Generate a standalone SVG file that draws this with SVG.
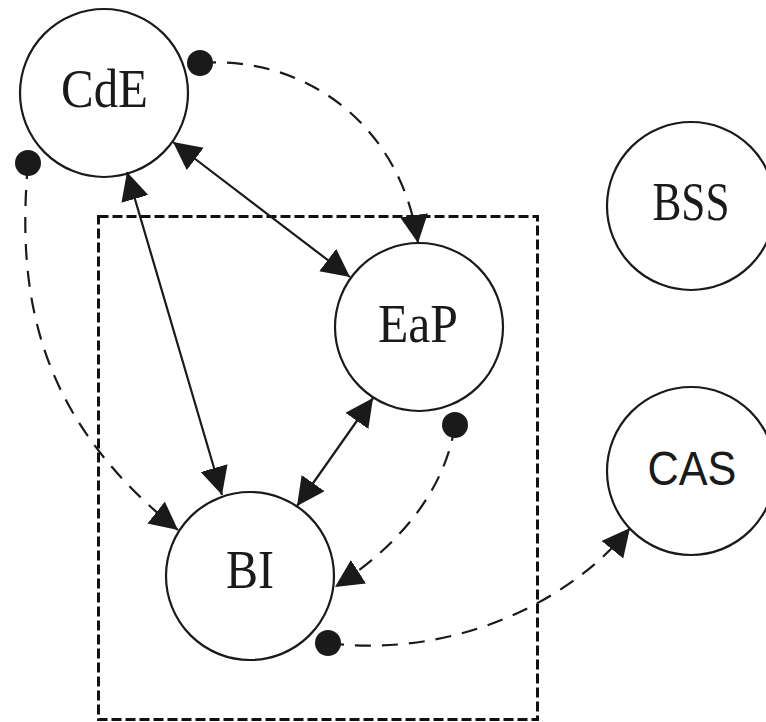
<svg xmlns="http://www.w3.org/2000/svg" width="766" height="722" viewBox="0 0 766 722">
<defs>
<style>
.node{fill:#fff;stroke:#1a1a1a;stroke-width:2.2}
.lbl{font-family:"Liberation Serif","Times New Roman",serif;font-size:55px;fill:#1a1a1a;text-anchor:middle}
.sans{font-family:"Liberation Sans",Arial,sans-serif;font-size:49px}
.solid{fill:none;stroke:#1a1a1a;stroke-width:2.2}
.dash{fill:none;stroke:#1a1a1a;stroke-width:2.2;stroke-dasharray:16 11}
.frame{fill:none;stroke:#111;stroke-width:3;stroke-dasharray:10 4}
</style>
<marker id="arr" markerUnits="userSpaceOnUse" markerWidth="30" markerHeight="30" refX="28" refY="14" orient="auto-start-reverse">
<path d="M0,0 L28,14 L0,28 z" fill="#1a1a1a"/>
</marker>
</defs>
<rect width="766" height="722" fill="#fff"/>
<rect class="frame" x="98.5" y="216.5" width="439" height="503"/>
<g id="CdE"><circle class="node" cx="104" cy="93" r="84"/><text class="lbl" x="104.5" y="107" textLength="87" lengthAdjust="spacingAndGlyphs">CdE</text></g>
<g id="EaP"><circle class="node" cx="419" cy="327" r="84"/><text class="lbl" x="418" y="342" textLength="80" lengthAdjust="spacingAndGlyphs">EaP</text></g>
<g id="BSS"><circle class="node" cx="691" cy="206" r="84"/><text class="lbl" x="691" y="220" textLength="77" lengthAdjust="spacingAndGlyphs">BSS</text></g>
<g id="CAS"><circle class="node" cx="691" cy="471" r="84"/><text class="lbl sans" x="692" y="485" textLength="89" lengthAdjust="spacingAndGlyphs">CAS</text></g>
<g id="BI"><circle class="node" cx="250" cy="576" r="84"/><text class="lbl" x="250" y="588" textLength="48" lengthAdjust="spacingAndGlyphs">BI</text></g>
<g id="connectors">
<line class="solid" x1="173" y1="142" x2="350" y2="277" marker-start="url(#arr)" marker-end="url(#arr)"/>
<line class="solid" x1="127" y1="172" x2="222" y2="495" marker-start="url(#arr)" marker-end="url(#arr)"/>
<line class="solid" x1="373" y1="398" x2="297" y2="506" marker-start="url(#arr)" marker-end="url(#arr)"/>
<path class="dash" d="M200,63 C300,55 400,120 418,243" marker-end="url(#arr)"/>
<path class="dash" d="M28,163 C16,300 40,420 178,530" marker-end="url(#arr)"/>
<path class="dash" d="M455,425 C445,490 400,545 335,587" marker-end="url(#arr)"/>
<path class="dash" d="M328,643 C445,658 565,608 630,528" marker-end="url(#arr)"/>
<circle cx="200" cy="63" r="13" fill="#1a1a1a"/>
<circle cx="28" cy="163" r="13" fill="#1a1a1a"/>
<circle cx="455" cy="425" r="13" fill="#1a1a1a"/>
<circle cx="328" cy="643" r="13" fill="#1a1a1a"/>
</g>
</svg>
